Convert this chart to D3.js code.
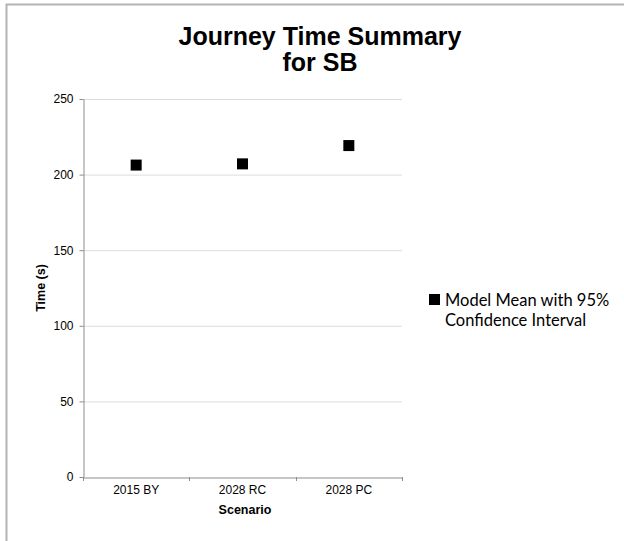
<!DOCTYPE html>
<html><head><meta charset="utf-8">
<script src="https://cdn.jsdelivr.net/npm/d3@7"></script>
<style>body{margin:0;background:#fff}</style>
</head><body>
<svg id="c" width="624" height="541"></svg>
<script>
const categories = ["2015 BY", "2028 RC", "2028 PC"];
const meanValues = [206.3, 207.1, 219.2];
const yTicks = [0, 50, 100, 150, 200, 250];
const titleLines = ["Journey Time Summary", "for SB"];
const legendLines = ["Model Mean with 95%", "Confidence Interval"];

const svg = d3.select("#c");
// outer border
svg.append("path").attr("d","M6.5,541 L6.5,4.5 L624,4.5").attr("fill","none").attr("stroke","#b4b4b4").attr("stroke-width",2);

const L=83, R=402, T=99, B=477;
const x = d3.scaleBand().domain(categories).range([L,R]);
const y = d3.scaleLinear().domain([0,250]).range([B,T]);

// gridlines
svg.append("g").selectAll("line").data(yTicks.filter(d=>d>0)).join("line")
  .attr("x1",L).attr("x2",R).attr("y1",d=>y(d)+0.5).attr("y2",d=>y(d)+0.5)
  .attr("stroke","#dcdcdc").attr("stroke-width",1);

const yAxis = svg.append("g").attr("transform",`translate(${L+0.5},0)`)
  .call(d3.axisLeft(y).tickValues(yTicks).tickSize(4).tickPadding(6).tickSizeOuter(0));
yAxis.select(".domain").attr("stroke","#8c8c8c");
yAxis.selectAll(".tick line").attr("stroke","#8c8c8c");
yAxis.selectAll("text").attr("font-family","Liberation Sans, Arial").attr("font-size",12).attr("fill","#000");

const xAxis = svg.append("g").attr("transform",`translate(0,${B+0.5})`)
  .call(d3.axisBottom(x).tickSize(0).tickPadding(8));
xAxis.select(".domain").attr("stroke","#8c8c8c");
xAxis.selectAll("text").attr("font-family","Liberation Sans, Arial").attr("font-size",12).attr("fill","#000");
// category boundary ticks
const bounds = categories.map(c=>x(c)).concat([R]);
svg.append("g").selectAll("line").data(bounds).join("line")
  .attr("x1",d=>Math.round(d)+0.5).attr("x2",d=>Math.round(d)+0.5).attr("y1",B).attr("y2",B+4)
  .attr("stroke","#8c8c8c");

// markers
const s=11;
svg.append("g").selectAll("rect").data(meanValues).join("rect")
  .attr("x",(d,i)=>x(categories[i])+x.bandwidth()/2-s/2)
  .attr("y",d=>y(d)-s/2).attr("width",s).attr("height",s).attr("fill","#000");

// title
svg.append("text").attr("text-anchor","middle")
  .attr("font-family","Liberation Sans, Arial").attr("font-weight","bold").attr("font-size",25)
  .selectAll("tspan").data(titleLines).join("tspan")
  .attr("x",320).attr("y",(d,i)=>45+i*26).text(d=>d);

// axis titles
svg.append("text").attr("x",245).attr("y",514).attr("text-anchor","middle")
  .attr("font-family","Liberation Sans, Arial").attr("font-weight","bold").attr("font-size",12.5).text("Scenario");
svg.append("text").attr("transform","translate(45,288) rotate(-90)").attr("text-anchor","middle")
  .attr("font-family","Liberation Sans, Arial").attr("font-weight","bold").attr("font-size",12.5).text("Time (s)");

// legend
svg.append("rect").attr("x",429).attr("y",294).attr("width",11).attr("height",11).attr("fill","#000");
svg.append("text").attr("font-family","Lato, Open Sans, sans-serif").attr("font-size",16.5).attr("fill","#000")
  .selectAll("tspan").data(legendLines).join("tspan")
  .attr("x",445).attr("y",(d,i)=>306+i*20).text(d=>d);
</script>
</body></html>
